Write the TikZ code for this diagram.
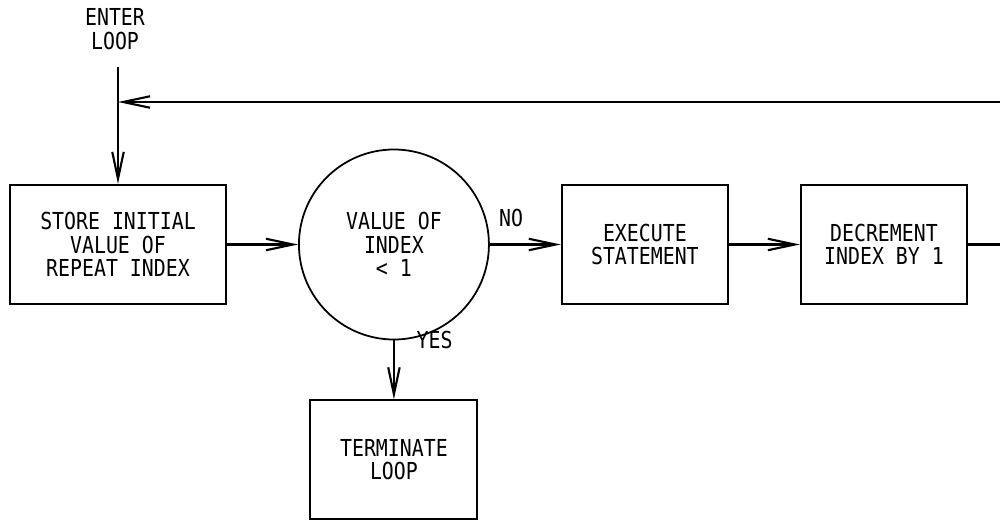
\documentclass[tikz,border=0pt]{standalone}
\usepackage{fontspec}
\setmonofont[FakeStretch=0.85]{DejaVu Sans Mono}
\usepackage{tikz}
\usetikzlibrary{arrows.meta,positioning}
\tikzset{
  loopBox/.style={
    draw=black,
    line width=1.2pt,
    fill=white,
    align=center,
    font=\ttfamily\fontsize{13.3}{13.3}\selectfont,
    minimum height=23.8mm,
    minimum width=33.2mm,
    inner sep=2pt
  },
  loopTest/.style={
    circle,
    draw=black,
    line width=1pt,
    align=center,
    font=\ttfamily\fontsize{13.3}{13.3}\selectfont,
    minimum size=38mm,
    inner sep=0pt
  },
  loopLabel/.style={
    align=center,
    font=\ttfamily\fontsize{13.3}{13.3}\selectfont,
    inner sep=1pt
  },
  loopArrow/.style={
    -{Straight Barb[length=5.4mm,width=2.3mm,line width=1.2pt]},
    line width=1.2pt
  },
  loopLine/.style={
    line width=1.2pt
  }
}
\begin{document}
\begin{tikzpicture}[node distance=11.8mm and 14.2mm]
  \useasboundingbox (0,0) rectangle (20,10.38);
  \node[loopBox, minimum width=43.2mm] (store) at (2.36,5.49) {STORE INITIAL\\VALUE OF\\REPEAT INDEX};
  \node[loopTest, right=of store] (test) {VALUE OF\\INDEX\\< 1};
  \node[loopBox, right=of test] (execute) {EXECUTE\\STATEMENT};
  \node[loopBox, right=of execute] (decrement) {DECREMENT\\INDEX BY 1};
  \node[loopBox, below=of test, minimum width=33.4mm] (terminate) {TERMINATE\\LOOP};
  \node[loopLabel] (enter) at (2.3,9.8) {ENTER\\LOOP};

  \coordinate (start) at (2.36,9.04);
  \coordinate (join) at (2.36,8.34);
  \coordinate (back) at (20.4,8.34);

  \draw[loopArrow] (start) -- (store.north);
  \draw[loopArrow] (store) -- (test);
  \draw[loopArrow] (test) -- node[loopLabel, above, pos=0.3, yshift=3mm] {NO} (execute);
  \draw[loopArrow] (execute) -- (decrement);
  \draw[loopArrow] (test) -- node[loopLabel, right, pos=0.0, xshift=4mm] {YES} (terminate);
  \draw[loopLine] (decrement.east) -| (back);
  \draw[loopArrow] (back) -- (join);
\end{tikzpicture}
\end{document}
